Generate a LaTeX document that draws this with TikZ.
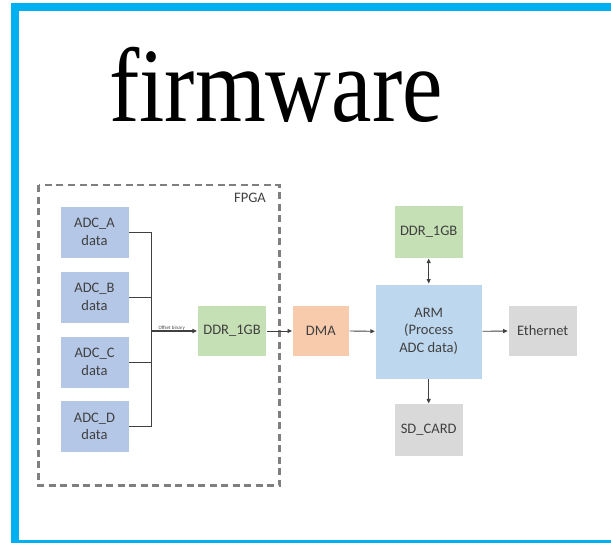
\documentclass[tikz,border=0pt]{standalone}
\usepackage{fontspec}
\setmainfont{Carlito}
\newfontfamily\titlefont{Liberation Serif}
\usetikzlibrary{arrows.meta}
\definecolor{frameblue}{HTML}{00B0F0}
\definecolor{adcblue}{HTML}{B4C7E7}
\definecolor{armblue}{HTML}{BDD7EE}
\definecolor{ddrgreen}{HTML}{C5E0B4}
\definecolor{dmaorange}{HTML}{F8CBAD}
\definecolor{boxgray}{HTML}{D9D9D9}
\definecolor{txtgray}{HTML}{404040}
\definecolor{dashgray}{HTML}{7F7F7F}
\tikzset{
  blk/.style={rectangle, inner sep=0pt, align=center, text=txtgray,
    font=\fontsize{14.5}{17.5}\selectfont, draw=white, line width=0.6pt},
  conn/.style={draw=txtgray, line width=0.9pt},
  tip/.style={-{Triangle[length=4.5pt,width=4pt]}},
}
\begin{document}
\begin{tikzpicture}[x=1pt,y=-1pt]
\useasboundingbox (0,0) rectangle (611,543);
% blue frame
\fill[frameblue] (11,3) rectangle (611,11);
\fill[frameblue] (11,3) rectangle (19,543);
\fill[frameblue] (11,540) rectangle (611,543);
% title
\node[anchor=base, yscale=1.16, inner sep=0pt] (title) at (276,121)
  {\titlefont\fontsize{91}{100}\selectfont firmware};
% FPGA dashed box
\draw[dashgray, line width=2.2pt, dash pattern=on 7pt off 4.5pt] (38.5,185) rectangle (279.5,485.5);
\node[blk, draw=none, anchor=center] (fpga) at (250,198) {FPGA};
% ADC boxes
\node[blk, fill=adcblue, minimum width=69pt, minimum height=52pt] (adcA) at (94.5,232) {ADC\_A\\data};
\node[blk, fill=adcblue, minimum width=69pt, minimum height=52pt] (adcB) at (94.5,297) {ADC\_B\\data};
\node[blk, fill=adcblue, minimum width=69pt, minimum height=52pt] (adcC) at (94.5,362) {ADC\_C\\data};
\node[blk, fill=adcblue, minimum width=69pt, minimum height=52pt] (adcD) at (94.5,426.5) {ADC\_D\\data};
% DDR in FPGA
\node[blk, fill=ddrgreen, minimum width=69.5pt, minimum height=51.5pt] (ddrA) at (232,331) {DDR\_1GB};
% DMA
\node[blk, fill=dmaorange, minimum width=57pt, minimum height=51.5pt] (dma) at (320.8,331) {DMA};
% ARM
\node[blk, fill=armblue, minimum width=107pt, minimum height=95pt] (arm) at (428.7,331.3) {ARM\\(Process\\ADC data)};
% DDR top
\node[blk, fill=ddrgreen, minimum width=69.5pt, minimum height=52.5pt] (ddrB) at (428.7,232) {DDR\_1GB};
% SD card
\node[blk, fill=boxgray, minimum width=69.5pt, minimum height=53pt] (sd) at (428.7,430.2) {SD\_CARD};
% Ethernet
\node[blk, fill=boxgray, minimum width=69.5pt, minimum height=51.5pt] (eth) at (542.7,331) {Ethernet};
% bus
\coordinate (bus) at (151,331);
\draw[conn] (adcA.east) -| (bus);
\draw[conn] (adcB.east) -| (bus);
\draw[conn] (adcC.east) -| (bus);
\draw[conn] (adcD.east) -| (bus);
\draw[conn, line width=1.3pt, tip] (bus) -- (ddrA.west)
  node[pos=0.45, above=0.5pt, inner sep=0pt, text=txtgray, font=\fontsize{5}{6}\selectfont] (lbl) {Offset binary};
\draw[conn, tip] (ddrA.east) -- (dma.west);
\draw[conn, tip] (dma.east) -- (arm.west);
\draw[conn, tip] (arm.east) -- (eth.west);
\draw[conn, tip] (arm.south) -- (sd.north);
\draw[conn, {Triangle[length=4.5pt,width=4pt]}-{Triangle[length=4.5pt,width=4pt]}] (ddrB.south) -- (arm.north);
\end{tikzpicture}
\end{document}
